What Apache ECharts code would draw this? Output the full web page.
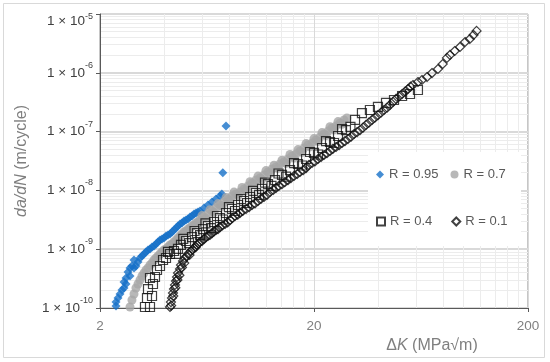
<!DOCTYPE html>
<html><head><meta charset="utf-8">
<script src="https://cdn.jsdelivr.net/npm/echarts@6/dist/echarts.min.js"></script>
<style>html,body{margin:0;padding:0;background:#fff}#c{width:550px;height:362px}</style>
</head><body><div id="c"></div>
<script>
// ---- axis ticks ----
const xTicks = [2, 20, 200];
const xMinorTicks = [4, 6, 8, 10, 12, 14, 16, 18, 40, 60, 80, 100, 120, 140, 160, 180];
const yTicks = [1e-10, 1e-9, 1e-8, 1e-7, 1e-6, 1e-5];
const seriesNames = ['R = 0.95', 'R = 0.7', 'R = 0.4', 'R = 0.1'];

// ---- R = 0.95 ----
const dK_R095 = [2.376,2.376,2.428,2.481,2.534,2.589,2.589,2.646,2.646,2.703,2.762,2.762,2.821,2.883,2.883,2.945,3.010,3.075,3.142,3.210,3.281,3.352,3.425,3.500,3.575,3.654,3.733,3.814,3.897,3.982,4.068,4.157,4.247,4.339,4.434,4.530,4.629,4.729,4.833,4.937,5.045,5.155,5.267,5.381,5.499,5.618,5.739,5.865,6.124,6.394,6.675,6.969,7.273,7.42,7.50,7.76];
const dadN_R095 = [1.08e-10,1.26e-10,1.48e-10,1.73e-10,2.02e-10,2.77e-10,2.19e-10,2.56e-10,3.24e-10,4.10e-10,3.50e-10,4.79e-10,5.18e-10,6.55e-10,4.79e-10,5.18e-10,6.06e-10,7.09e-10,7.66e-10,8.29e-10,8.96e-10,9.69e-10,1.01e-9,1.09e-9,1.13e-9,1.23e-9,1.33e-9,1.43e-9,1.49e-9,1.55e-9,1.68e-9,1.74e-9,1.81e-9,1.96e-9,2.12e-9,2.29e-9,2.48e-9,2.68e-9,2.79e-9,3.02e-9,3.14e-9,3.26e-9,3.53e-9,3.67e-9,3.97e-9,4.13e-9,4.29e-9,4.46e-9,5.02e-9,5.65e-9,6.35e-9,7.14e-9,8.03e-9,8.69e-9,2.0e-8,1.25e-7];

// ---- R = 0.7 ----
const dK_R07 = [2.762,2.821,2.883,2.945,3.010,3.075,3.142,3.210,3.281,3.352,3.425,3.500,3.575,3.654,3.733,3.814,3.897,3.982,4.068,4.157,4.247,4.339,4.434,4.530,4.629,4.729,4.833,4.937,5.045,5.155,5.267,5.381,5.499,5.618,5.739,5.865,6.124,6.394,6.675,6.969,7.273,7.593,7.928,8.277,8.641,9.022,9.419,9.834,10.27,10.72,11.19,11.68,12.19,12.73,13.29,13.87,14.48,15.12,15.79,16.48,17.21,17.97,18.76,19.58,20.43,21.33,22.27,23.25,24.28,25.35,26.46,27.63,28.5,
  5.99,6.26,6.53,6.82,7.12,7.43,7.76,8.10,8.46,8.83,9.22,9.63,10.05,10.49,10.95,11.43,11.93,12.46,13.01,13.58,14.17,14.80,15.45,16.13,16.84,17.58,18.36,19.16,20.00,20.88,21.80,22.76,23.76,24.81,25.90,27.04];
const dadN_R07 = [1.04e-10,1.37e-10,1.73e-10,2.19e-10,2.56e-10,2.99e-10,3.50e-10,3.94e-10,4.43e-10,4.79e-10,5.39e-10,5.83e-10,6.55e-10,7.09e-10,7.66e-10,8.29e-10,8.96e-10,9.69e-10,1.01e-9,1.09e-9,1.18e-9,1.23e-9,1.33e-9,1.43e-9,1.55e-9,1.68e-9,1.81e-9,1.96e-9,2.04e-9,2.20e-9,2.29e-9,2.48e-9,2.58e-9,2.79e-9,2.90e-9,3.14e-9,3.53e-9,3.97e-9,4.46e-9,5.02e-9,5.65e-9,6.35e-9,7.14e-9,8.03e-9,8.69e-9,9.39e-9,1.06e-8,1.19e-8,1.34e-8,1.50e-8,1.63e-8,1.83e-8,2.06e-8,2.31e-8,2.50e-8,2.81e-8,3.04e-8,3.42e-8,3.85e-8,4.16e-8,4.68e-8,5.26e-8,5.91e-8,6.40e-8,7.20e-8,8.09e-8,9.10e-8,1.02e-7,1.15e-7,1.25e-7,1.40e-7,1.58e-7,1.70e-7,
  3.73e-9,3.34e-9,4.71e-9,4.22e-9,5.97e-9,5.35e-9,7.54e-9,6.76e-9,9.35e-9,8.06e-9,1.12e-8,1.00e-8,1.41e-8,1.27e-8,1.75e-8,1.54e-8,2.17e-8,1.95e-8,2.69e-8,2.37e-8,3.27e-8,2.88e-8,4.07e-8,3.57e-8,4.94e-8,4.43e-8,6.25e-8,5.49e-8,7.60e-8,6.81e-8,9.61e-8,8.60e-8,1.21e-7,1.07e-7,1.48e-7,1.33e-7];

// ---- R = 0.4 ----
const dK_R04 = [3.245,3.425,3.316,3.500,3.352,3.537,3.425,3.614,3.693,3.814,3.94,4.068,4.247,4.434,4.629,4.78,5.045,5.381,5.68,6.06,6.394,6.82,7.273,7.76,8.277,8.83,9.419,10.05,10.72,11.43,12.19,13.15,14.17,15.45,16.84,18.36,20.0,21.8,23.76,25.9,28.2,31.1,33.5,36.5,39.8,43.4,47.3,51.6,56.2,61.2,
  4.157,4.53,4.90,5.21,5.53,5.87,6.22,6.60,7.04,7.51,8.01,8.55,9.12,9.73,10.38,11.07,11.8,12.66,13.65,14.8,16.13,17.58,19.16,20.88,22.76,24.81,27.04,29.6];
const dadN_R04 = [1.04e-10,1.04e-10,1.48e-10,1.60e-10,2.10e-10,2.56e-10,3.24e-10,3.37e-10,4.43e-10,5.18e-10,6.55e-10,7.09e-10,8.29e-10,9.32e-10,1.01e-9,1.18e-9,1.38e-9,1.61e-9,1.88e-9,2.20e-9,2.48e-9,2.90e-9,3.39e-9,4.13e-9,4.83e-9,5.65e-9,6.60e-9,7.72e-9,9.03e-9,1.06e-8,1.28e-8,1.50e-8,1.83e-8,2.22e-8,2.81e-8,3.42e-8,4.33e-8,5.26e-8,6.65e-8,8.42e-8,1.06e-7,1.58e-7,2.06e-7,2.33e-7,2.63e-7,3.07e-7,3.45e-7,4.03e-7,4.36e-7,5.10e-7,
  9.0e-10,8.3e-10,1.5e-9,1.27e-9,2.04e-9,1.74e-9,2.74e-9,2.29e-9,3.67e-9,3.2e-9,5.2e-9,4.46e-9,7.1e-9,6.1e-9,9.8e-9,8.4e-9,1.36e-8,1.19e-8,1.94e-8,1.72e-8,2.92e-8,2.65e-8,4.5e-8,4.08e-8,6.9e-8,6.4e-8,1.1e-7,1.2e-7];

// ---- R = 0.1 ----
const dK_R01 = [4.247,4.29,4.339,4.386,4.434,4.48,4.530,4.58,4.629,4.729,4.78,4.885,4.99,5.155,5.32,5.499,5.68,5.865,6.124,6.394,6.675,6.969,7.273,7.68,8.10,8.55,9.022,9.63,10.27,10.95,11.68,12.46,13.29,14.17,15.12,16.13,17.21,18.36,19.58,20.88,22.27,23.76,25.35,27.04,28.84,30.77,32.81,35.0,37.33,39.8,42.47,45.3,48.33,51.6,54.99,58.0,61.2,63.9,67.5,71.18,75.9,79.9,83.6,86.4,90.9,96.23,101.6,106.9,111.3,115,
  4.30,4.40,4.50,4.60,4.70,4.83,4.95,5.07,5.24,5.42,5.60,5.77,6.0,6.25,6.53,6.82,7.12,7.47,7.9,8.33,8.8,9.3,9.95,10.6,11.3,12.07,12.9,13.7,14.6,15.6,16.7,17.8,18.9,20.2,21.6,23.0,24.5,26.2,27.9,29.8,31.8,33.9,36.1,38.5,41.1,43.9,46.8,50.0,53.3,56.5];
const dadN_R01 = [1.04e-10,1.26e-10,1.48e-10,1.80e-10,2.10e-10,2.46e-10,2.88e-10,3.37e-10,3.94e-10,4.61e-10,5.39e-10,6.30e-10,7.09e-10,8.29e-10,9.32e-10,1.05e-9,1.18e-9,1.33e-9,1.49e-9,1.68e-9,1.88e-9,2.12e-9,2.38e-9,2.68e-9,3.14e-9,3.67e-9,4.13e-9,4.83e-9,5.65e-9,6.60e-9,7.72e-9,9.39e-9,1.10e-8,1.28e-8,1.50e-8,1.76e-8,2.06e-8,2.40e-8,2.93e-8,3.42e-8,4.00e-8,4.68e-8,5.47e-8,6.40e-8,7.49e-8,9.10e-8,1.06e-7,1.30e-7,1.58e-7,1.91e-7,2.33e-7,2.84e-7,3.59e-7,4.36e-7,5.30e-7,6.20e-7,6.97e-7,7.54e-7,8.49e-7,9.91e-7,1.16e-6,1.41e-6,1.79e-6,2.01e-6,2.35e-6,2.75e-6,3.34e-6,3.76e-6,4.40e-6,5.15e-6,
  1.1e-10,1.6e-10,2.2e-10,3.0e-10,3.6e-10,4.9e-10,5.8e-10,7.5e-10,8.0e-10,9.8e-10,1.08e-9,1.25e-9,1.38e-9,1.6e-9,1.75e-9,2.0e-9,2.2e-9,2.55e-9,2.85e-9,3.4e-9,3.85e-9,4.5e-9,5.2e-9,6.0e-9,7.2e-9,8.4e-9,1.02e-8,1.19e-8,1.38e-8,1.62e-8,1.9e-8,2.2e-8,2.7e-8,3.1e-8,3.7e-8,4.3e-8,5.1e-8,5.9e-8,6.9e-8,8.2e-8,9.8e-8,1.17e-7,1.42e-7,1.72e-7,2.1e-7,2.55e-7,3.2e-7,3.95e-7,4.8e-7,5.8e-7];

function pairs(xs, ys) { return xs.map((x, i) => [x, ys[i]]); }
const yMinorTicks = [];
for (let i = 0; i < yTicks.length - 1; i++) for (let k = 2; k <= 9; k++) yMinorTicks.push(k * yTicks[i]);
const yTop = yTicks[yTicks.length - 1];

const FONT = '"Liberation Sans", Arial, sans-serif';
const chart = echarts.init(document.getElementById('c'), null, {renderer: 'canvas'});
const gridBox = {left: 100, top: 14, width: 428, height: 294};
chart.setOption({
  animation: false,
  backgroundColor: '#fff',
  textStyle: {fontFamily: FONT},
  grid: Object.assign({show: true, borderColor: '#8c8c8c', borderWidth: 1, containLabel: false, outerBoundsMode: 'none'}, gridBox),
  graphic: [
    {type: 'rect', shape: {x: 3.5, y: 3.5, width: 541, height: 354}, style: {fill: 'none', stroke: '#d9d9d9', lineWidth: 1}, z: 0, silent: true},
    {type: 'rect', shape: {x: 368, y: 152, width: 153, height: 94}, style: {fill: '#fff'}, z: 1, silent: true}
  ],
  xAxis: [{
    type: 'log', logBase: 10, min: 2, max: 200, gridIndex: 0,
    axisLine: {show: true, lineStyle: {color: '#595959', width: 1}},
    axisTick: {show: true, length: 4, lineStyle: {color: '#595959'}, customValues: xTicks},
    axisLabel: {customValues: xTicks, color: '#7f7f7f', fontSize: 13.5, fontFamily: FONT, margin: 11},
    splitLine: {show: true, lineStyle: {color: '#d9d9d9', width: 1}},
    minorTick: {show: false}, minorSplitLine: {show: false},
    name: '{n|Δ}{i|K}{n| (MPa√m)}', nameLocation: 'middle', nameGap: 14,
    nameTextStyle: {padding: [0, 0, 0, 236], rich: {
      n: {fontSize: 16, color: '#7f7f7f', fontFamily: FONT},
      i: {fontSize: 16, color: '#7f7f7f', fontStyle: 'italic', fontFamily: FONT}}}
  }, {
    type: 'log', logBase: 10, min: 2, max: 200, gridIndex: 0, position: 'bottom',
    axisLine: {show: false}, axisTick: {show: false, customValues: xMinorTicks},
    axisLabel: {show: false, customValues: xMinorTicks},
    splitLine: {show: true, lineStyle: {color: '#ececec', width: 1}}
  }],
  yAxis: [{
    type: 'log', logBase: 10, min: 1e-10, max: 1e-5, gridIndex: 0,
    axisLine: {show: true, lineStyle: {color: '#595959', width: 1}},
    axisTick: {show: true, length: 4, lineStyle: {color: '#595959'}, customValues: yTicks},
    axisLabel: {customValues: yTicks, margin: 7, fontFamily: FONT,
      formatter: function (v) {
        const e = Math.round(Math.log10(v));
        const top = Math.abs(v - yTop) < yTop * 1e-6;
        return top ? '{bt|1 × 10}{st|' + e + '}' : '{b|1 × 10}{s|' + e + '}';
      },
      rich: {
        b: {fontSize: 13.5, color: '#404040', lineHeight: 24, fontFamily: FONT},
        s: {fontSize: 9, color: '#404040', lineHeight: 10, verticalAlign: 'top', fontFamily: FONT},
        bt: {fontSize: 13.5, color: '#404040', lineHeight: 24, padding: [14, 0, 0, 0], fontFamily: FONT},
        st: {fontSize: 9, color: '#404040', lineHeight: 10, verticalAlign: 'top', padding: [10, 0, 0, 0], fontFamily: FONT}}},
    splitLine: {show: true, lineStyle: {color: '#d9d9d9', width: 2}},
    name: '{i|da/dN} (m/cycle)', nameLocation: 'middle', nameGap: 70, nameRotate: 90,
    nameTextStyle: {fontSize: 16, color: '#7f7f7f', fontFamily: FONT, rich: {
      i: {fontSize: 16, color: '#7f7f7f', fontStyle: 'italic', fontFamily: FONT}}}
  }, {
    type: 'log', logBase: 10, min: 1e-10, max: 1e-5, gridIndex: 0, position: 'left',
    axisLine: {show: false}, axisTick: {show: false, customValues: yMinorTicks},
    axisLabel: {show: false, customValues: yMinorTicks},
    splitLine: {show: true, lineStyle: {color: '#ececec', width: 1}}
  }],
  legend: [{
    data: [seriesNames[0], seriesNames[1]], left: 376, top: 168, orient: 'horizontal',
    itemWidth: 8, itemHeight: 8, itemGap: 12, padding: 0, selectedMode: false,
    textStyle: {fontSize: 13, color: '#595959', fontFamily: FONT}
  }, {
    data: [seriesNames[2], seriesNames[3]], left: 376, top: 215, orient: 'horizontal',
    itemWidth: 8, itemHeight: 8, itemGap: 19, padding: 0, selectedMode: false,
    textStyle: {fontSize: 13, color: '#595959', fontFamily: FONT}
  }],
  series: [{
    name: seriesNames[0], type: 'scatter', xAxisIndex: 0, yAxisIndex: 0,
    symbol: 'diamond', symbolSize: 9, itemStyle: {color: '#1670c8'},
    data: pairs(dK_R095, dadN_R095)
  }, {
    name: seriesNames[1], type: 'scatter', xAxisIndex: 0, yAxisIndex: 0,
    symbol: 'circle', symbolSize: 9, itemStyle: {color: '#a6a6a6'},
    data: pairs(dK_R07, dadN_R07)
  }, {
    name: seriesNames[2], type: 'scatter', xAxisIndex: 0, yAxisIndex: 0,
    symbol: 'rect', symbolSize: 9, itemStyle: {color: 'rgba(255,255,255,0)', borderColor: '#111', borderWidth: 1.2},
    data: pairs(dK_R04, dadN_R04)
  }, {
    name: seriesNames[3], type: 'scatter', xAxisIndex: 0, yAxisIndex: 0,
    symbol: 'diamond', symbolSize: 9, itemStyle: {color: 'rgba(255,255,255,0)', borderColor: '#111', borderWidth: 1.2},
    data: pairs(dK_R01, dadN_R01)
  }]
});
</script>
</body></html>
